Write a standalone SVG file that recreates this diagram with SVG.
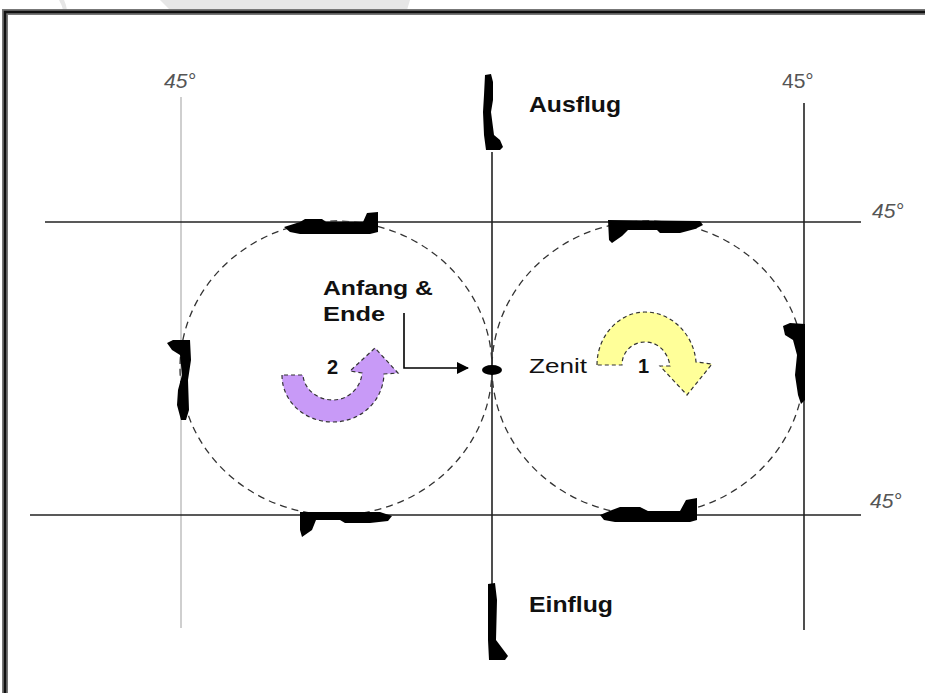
<svg xmlns="http://www.w3.org/2000/svg" width="925" height="693" viewBox="0 0 925 693">
<style>
.lbl{font-family:"Liberation Sans",Arial,sans-serif;font-weight:bold;fill:#111}
.deg{font-family:"Liberation Sans",Arial,sans-serif;fill:#555;font-size:21px}
.plane{fill:#000}
.circ{fill:none;stroke:#333;stroke-width:1.3;stroke-dasharray:7 5}
.ln{stroke:#222;stroke-width:1.6;fill:none}
.arrowshape{stroke:#333;stroke-width:1.2;stroke-dasharray:4 3}
</style>
<defs>
<marker id="ah" viewBox="0 0 12 12" refX="11" refY="6" markerWidth="12" markerHeight="12" markerUnits="userSpaceOnUse" orient="auto">
<path d="M0,0 L12,6 L0,12 Z" fill="#000"/>
</marker>
</defs>
<rect width="925" height="693" fill="#fff"/>
<g id="watermark" fill="#e6e6e6">
<path d="M160,0 L410,0 L407,10 L170,10 Z"/>
<path d="M59,0 Q62,5 63,10 L67,10 Q66,4 64,0 Z"/>
</g>
<g id="frame">
<path d="M5,693 L5,12 L925,12" fill="none" stroke="#777" stroke-width="6"/>
<path d="M5,693 L5,12 L925,12" fill="none" stroke="#111" stroke-width="2.5"/>
</g>
<g id="connectors">
<line x1="181" y1="97" x2="181" y2="628" stroke="#bbb" stroke-width="1.4"/>
<line class="ln" x1="804" y1="103" x2="804" y2="630"/>
<line class="ln" x1="45" y1="222" x2="861" y2="222"/>
<line class="ln" x1="30" y1="515" x2="861" y2="515"/>
<line class="ln" x1="492" y1="152" x2="492" y2="585"/>
<ellipse class="circ" cx="336" cy="368" rx="156" ry="147"/>
<ellipse class="circ" cx="648" cy="368" rx="156" ry="147"/>
<path d="M404,313 L404,368 L468,368" fill="none" stroke="#000" stroke-width="1.6" marker-end="url(#ah)"/>
</g>
<g id="labels">
<text class="deg" x="164" y="88" font-style="italic">45°</text>
<text class="deg" x="782" y="88">45°</text>
<text class="deg" x="872" y="218" font-style="italic">45°</text>
<text class="deg" x="870" y="508" font-style="italic">45°</text>
</g>
<g id="ausflug">
<path class="plane" d="M485,75 L491,74 L493,82 L493,100 L491,112 L494,135 L500,140 L503,147 L500,150 L486,150 L484,135 L483,112 L484,95 Z"/>
<text class="lbl" x="529" y="112" font-size="22" textLength="92" lengthAdjust="spacingAndGlyphs">Ausflug</text>
</g>
<g id="einflug">
<path class="plane" d="M488,584 L495,583 L497,600 L496,640 L502,648 L508,656 L505,660 L489,660 L488,640 Z"/>
<text class="lbl" x="529" y="612" font-size="22" textLength="84" lengthAdjust="spacingAndGlyphs">Einflug</text>
</g>
<g id="plane-top-left">
<path class="plane" d="M284,227 L300,222 L305,219 L322,219 L326,222 L363,222 L367,213 L378,212 L378,232 L370,234 L300,234 L290,232 Z"/>
</g>
<g id="plane-top-right">
<path class="plane" d="M608,220 L700,221 L703,225 L695,229 L680,233 L660,233 L657,230 L628,230 L622,236 L612,243 L609,240 Z"/>
</g>
<g id="plane-left">
<path class="plane" d="M167,343 L173,340 L190,340 L191,360 L188,380 L189,410 L186,420 L181,420 L177,405 L178,390 L182,375 L180,355 L172,350 Z"/>
</g>
<g id="plane-right">
<path class="plane" d="M783,326 L790,323 L805,324 L805,400 L801,404 L798,395 L795,375 L797,355 L793,340 L785,335 Z"/>
</g>
<g id="plane-bottom-left">
<path class="plane" d="M300,512 L380,512 L392,516 L388,521 L370,523 L345,523 L340,520 L316,520 L312,530 L302,537 L300,530 Z"/>
</g>
<g id="plane-bottom-right">
<path class="plane" d="M600,515 L612,510 L620,507 L640,507 L648,511 L680,511 L686,500 L697,498 L697,520 L690,522 L615,522 L604,520 Z"/>
</g>
<g id="start-end">
<ellipse cx="492" cy="370" rx="10" ry="5" fill="#000"/>
<text class="lbl" x="323" y="295" font-size="20" textLength="110" lengthAdjust="spacingAndGlyphs">Anfang &amp;</text>
<text class="lbl" x="323" y="321" font-size="20" textLength="62" lengthAdjust="spacingAndGlyphs">Ende</text>
</g>
<g id="zenit">
<text x="529" y="373" font-family="'Liberation Sans',Arial,sans-serif" font-size="21" fill="#111" textLength="58" lengthAdjust="spacingAndGlyphs">Zenit</text>
</g>
<g id="arrow-1">
<path class="arrowshape" fill="#ffff99" d="M597,365 C597,335 620,312 645,312 C672,312 694,335 696,362 L712,364 L687,395 L660,366 L670,366 C668,352 658,342 645,342 C632,342 622,352 622,365 Z"/>
<text class="lbl" x="638" y="373" font-size="20">1</text>
</g>
<g id="arrow-2">
<path class="arrowshape" fill="#c89af7" d="M282,375 C282,402 305,422 333,422 C360,422 383,402 384,374 L398,373 L375,348 L350,371 L362,373 C361,388 348,400 333,400 C317,400 304,389 303,375 Z"/>
<text class="lbl" x="327" y="374" font-size="20">2</text>
</g>
</svg>
